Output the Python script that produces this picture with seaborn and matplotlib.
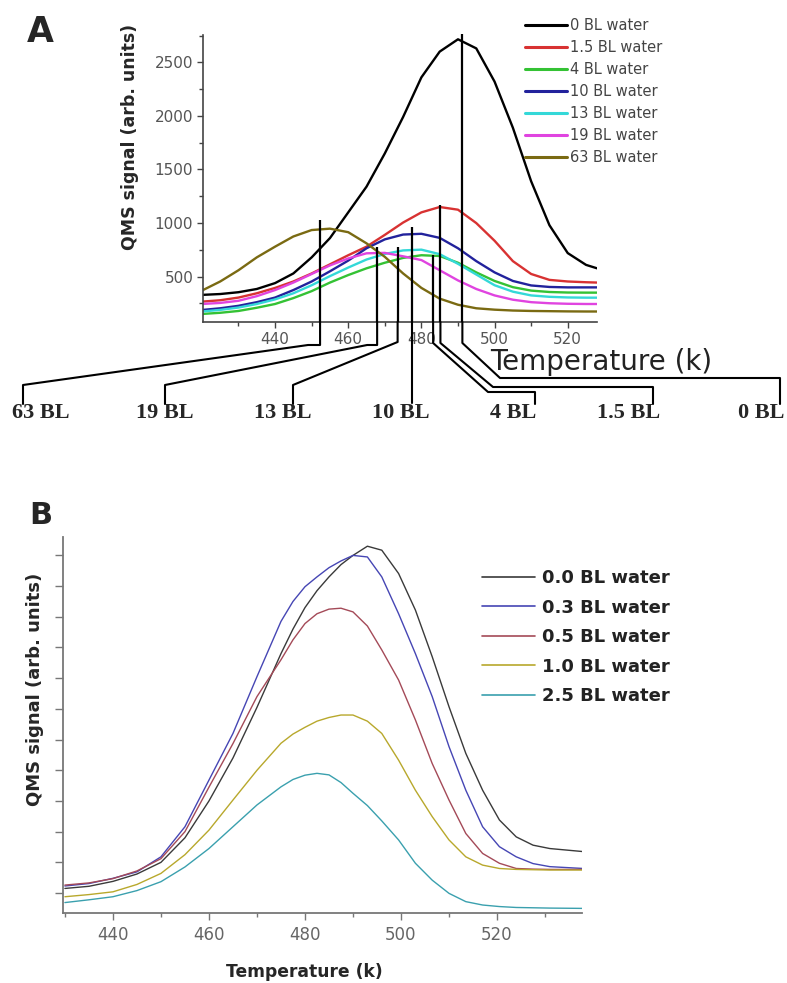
import numpy as np
import pandas as pd
import matplotlib
matplotlib.use("Agg")
import matplotlib.pyplot as plt
from matplotlib.lines import Line2D
from matplotlib.ticker import MultipleLocator, NullFormatter
import seaborn as sns

# ---------------- Panel A data ----------------
T_A = [420, 425, 430, 435, 440, 445, 450, 455, 460, 465, 470, 475,
       480, 485, 490, 495, 500, 505, 510, 515, 520, 525, 528]
a_bl0 = [330, 338, 355, 385, 440, 530, 680, 860, 1100, 1340, 1650, 1990,
         2360, 2600, 2715, 2630, 2320, 1890, 1390, 980, 720, 610, 578]
a_bl1_5 = [267, 280, 305, 345, 395, 455, 530, 615, 700, 780, 890, 1005,
           1100, 1150, 1125, 1000, 835, 645, 525, 470, 455, 448, 445]
a_bl4 = [152, 163, 180, 210, 245, 300, 365, 445, 515, 578, 630, 675,
         700, 693, 630, 540, 460, 402, 370, 357, 352, 351, 351]
a_bl10 = [189, 205, 228, 262, 305, 375, 455, 550, 650, 765, 848, 893,
          900, 862, 765, 645, 540, 460, 418, 404, 400, 400, 400]
a_bl13 = [175, 190, 212, 245, 288, 345, 420, 505, 585, 660, 712, 745,
          752, 710, 620, 520, 420, 360, 325, 312, 306, 304, 304]
a_bl19 = [245, 255, 275, 318, 375, 445, 525, 605, 670, 718, 722, 690,
          655, 560, 465, 385, 325, 285, 262, 252, 247, 245, 245]
a_bl63 = [370, 455, 560, 680, 780, 875, 935, 948, 915, 811, 685, 530,
          395, 295, 238, 205, 192, 184, 180, 178, 176, 175, 175]
labels_A = ["0 BL water", "1.5 BL water", "4 BL water", "10 BL water",
            "13 BL water", "19 BL water", "63 BL water"]
colors_A = ["#000000", "#d83232", "#34c234", "#22229c", "#34d8d8",
            "#e044e0", "#7a6a12"]
# peak markers (temperature, top of marker line) and their tags
peak_T_A = [491.2, 485.2, 483.2, 477.5, 473.5, 467.9, 452.3]
peak_top_A = [2760, 1169, 702, 967, 780, 780, 1029]
peak_tags = ["0 BL", "1.5 BL", "4 BL", "10 BL", "13 BL", "19 BL", "63 BL"]

# ---------------- Panel B data ----------------
T_B = [430, 435, 440, 445, 450, 455, 460, 465, 470, 475, 477.5, 480, 482.5, 485,
       487.5, 490, 493, 496, 499.5, 503, 506.5, 510, 513.5, 517, 520.5, 524,
       527.5, 531, 538]
b_00 = [0.15, 0.22, 0.38, 0.62, 1.0, 1.8, 3.0, 4.4, 6.05, 7.8, 8.6, 9.3, 9.85, 10.3,
        10.7, 11.0, 11.3, 11.17, 10.41, 9.22, 7.7, 6.07, 4.55, 3.35, 2.38, 1.83,
        1.56, 1.45, 1.35]
b_03 = [0.23, 0.31, 0.48, 0.69, 1.18, 2.16, 3.68, 5.2, 7.05, 8.85, 9.5, 9.98, 10.3, 10.6,
        10.82, 11.0, 10.95, 10.3, 9.1, 7.8, 6.4, 4.77, 3.35, 2.16, 1.51, 1.18,
        0.96, 0.86, 0.80]
b_05 = [0.26, 0.33, 0.47, 0.72, 1.12, 2.0, 3.45, 4.87, 6.4, 7.6, 8.25, 8.78, 9.1, 9.25,
        9.28, 9.16, 8.7, 7.92, 6.94, 5.64, 4.22, 3.03, 1.94, 1.29, 0.97, 0.80,
        0.78, 0.77, 0.77]
b_10 = [-0.12, -0.05, 0.04, 0.28, 0.64, 1.25, 2.05, 3.03, 4.0, 4.88, 5.18, 5.4, 5.6, 5.72,
        5.8, 5.8, 5.6, 5.2, 4.33, 3.35, 2.49, 1.73, 1.18, 0.91, 0.80, 0.77,
        0.76, 0.75, 0.75]
b_25 = [-0.31, -0.22, -0.12, 0.08, 0.37, 0.85, 1.45, 2.16, 2.87, 3.46, 3.7, 3.84, 3.9, 3.85,
        3.6, 3.25, 2.85, 2.35, 1.73, 0.97, 0.42, -0.01, -0.28, -0.39, -0.44, -0.47,
        -0.48, -0.49, -0.50]
labels_B = ["0.0 BL water", "0.3 BL water", "0.5 BL water", "1.0 BL water", "2.5 BL water"]
colors_B = ["#3a3a3a", "#4646b4", "#a44a58", "#b8a82c", "#3aa0ae"]

# ---------------- figure ----------------
sns.set_theme(style="ticks")
plt.rcParams['font.family'] = ['DejaVu Sans']

W, H = 787, 983
fig = plt.figure(figsize=(W / 100, H / 100), dpi=100)


def box(l, t, r, b):
    return [l / W, 1 - b / H, (r - l) / W, (b - t) / H]


def fx(x):
    return x / W


def fy(y):
    return 1 - y / H


axA = fig.add_axes(box(203, 35, 597, 322))
axB = fig.add_axes(box(63, 537, 582, 913))

# ---- Panel A ----
dfA = pd.concat([pd.DataFrame({"T": T_A, "signal": v, "coverage": n})
                 for v, n in zip([a_bl0, a_bl1_5, a_bl4, a_bl10, a_bl13, a_bl19, a_bl63], labels_A)],
                ignore_index=True)
sns.lineplot(data=dfA, x="T", y="signal", hue="coverage", hue_order=labels_A,
             palette=colors_A, ax=axA, linewidth=1.7, legend=False, sort=False,
             estimator=None)
yA0, yA1 = 77, 2755
axA.set_xlim(420.3, 528)
axA.set_ylim(yA0, yA1)
axA.vlines(peak_T_A, yA0, peak_top_A, color="black", lw=1.6, clip_on=False, zorder=5)
axA.set_xticks([440, 460, 480, 500, 520])
axA.xaxis.set_minor_locator(MultipleLocator(10))
axA.set_yticks([500, 1000, 1500, 2000, 2500])
axA.yaxis.set_minor_locator(MultipleLocator(250))
axA.set_xlabel("")
axA.set_ylabel("")
sns.despine(ax=axA)
for s in ["left", "bottom"]:
    axA.spines[s].set_color("#444444")
    axA.spines[s].set_linewidth(1.2)
axA.tick_params(axis="both", which="major", direction="out", length=4, width=1,
                color="#444444", labelcolor="#555555", labelsize=11, pad=3)
axA.tick_params(axis="both", which="minor", direction="out", length=3, width=1,
                color="#444444")

# legend A
hA = [Line2D([0], [0], color=c, lw=2.2) for c in colors_A]
fig.legend(hA, labels_A, loc="upper left", bbox_to_anchor=(fx(525), fy(18)),
           frameon=False, fontsize=10.5, handlelength=2.9, handletextpad=0.2,
           labelspacing=0.48, borderaxespad=0, borderpad=0, labelcolor="#444444")

# connectors from peak markers to tags
xp = [axA.transData.transform((t, yA0))[0] for t in peak_T_A]
x0, x15, x4, x10, x13, x19, x63 = xp
paths = [
    [(x0, 322), (x0, 343), (500, 378), (780, 378), (780, 404)],
    [(x15, 322), (x15, 343), (493, 387), (653, 387), (653, 404)],
    [(x4, 322), (x4, 343), (488, 392), (535, 392), (535, 404)],
    [(x10, 322), (x10, 403)],
    [(x13, 322), (x13, 342), (293, 385), (293, 404)],
    [(x19, 322), (x19, 345), (x19 - 10, 345), (165, 385), (165, 404)],
    [(x63, 322), (x63, 345), (x63 - 12, 345), (23, 385), (23, 404)],
]
for p in paths:
    xs = [fx(a) for a, b in p]
    ys = [fy(b) for a, b in p]
    fig.add_artist(Line2D(xs, ys, transform=fig.transFigure, color="black", lw=1.5))

tag_x = [761, 629, 513, 401, 283, 165, 41]
for tx, tag in zip(tag_x, peak_tags):
    fig.text(fx(tx), fy(413), tag, fontsize=16, fontweight="bold",
             family=["Liberation Serif", "DejaVu Serif"], ha="center", va="center")

fig.text(fx(490), fy(362), "Temperature (k)", fontsize=20, ha="left", va="center",
         color="#222222")
fig.text(fx(130), fy(137), "QMS signal (arb. units)", rotation=90, fontsize=12.5,
         fontweight="bold", ha="center", va="center")
fig.text(fx(40), fy(32), "A", fontsize=25, fontweight="bold", ha="center", va="center")

# ---- Panel B ----
dfB = pd.concat([pd.DataFrame({"T": T_B, "signal": v, "coverage": n})
                 for v, n in zip([b_00, b_03, b_05, b_10, b_25], labels_B)],
                ignore_index=True)
sns.lineplot(data=dfB, x="T", y="signal", hue="coverage", hue_order=labels_B,
             palette=colors_B, ax=axB, linewidth=1.0, legend=False, sort=False,
             estimator=None)
axB.set_xlim(429.6, 537.7)
axB.set_ylim(-0.65, 11.6)
axB.set_xticks([440, 460, 480, 500, 520])
axB.xaxis.set_minor_locator(MultipleLocator(10))
axB.set_yticks(list(range(0, 12)))
axB.yaxis.set_major_formatter(NullFormatter())
axB.set_xlabel("")
axB.set_ylabel("")
sns.despine(ax=axB)
for s in ["left", "bottom"]:
    axB.spines[s].set_color("#777777")
    axB.spines[s].set_linewidth(1.3)
axB.tick_params(axis="x", which="major", direction="out", length=5, width=1,
                color="#777777", labelcolor="#666666", labelsize=12, pad=4)
axB.tick_params(axis="x", which="minor", direction="out", length=3, width=1,
                color="#777777")
axB.tick_params(axis="y", which="major", direction="out", length=6, width=1,
                color="#777777")

hB = [Line2D([0], [0], color=c, lw=1.2) for c in colors_B]
fig.legend(hB, labels_B, loc="upper left", bbox_to_anchor=(fx(482), fy(569)),
           frameon=False, prop={"size": 13, "weight": "bold"}, handlelength=2.94,
           handletextpad=0.39, labelspacing=0.64, borderaxespad=0, borderpad=0,
           labelcolor="#222222")

fig.text(fx(304), fy(972), "Temperature (k)", fontsize=12.3, fontweight="bold",
         ha="center", va="center")
fig.text(fx(35), fy(689), "QMS signal (arb. units)", rotation=90, fontsize=13,
         fontweight="bold", ha="center", va="center")
fig.text(fx(41), fy(516), "B", fontsize=22, fontweight="bold", ha="center", va="center")

fig.savefig("out.png", dpi=100)
